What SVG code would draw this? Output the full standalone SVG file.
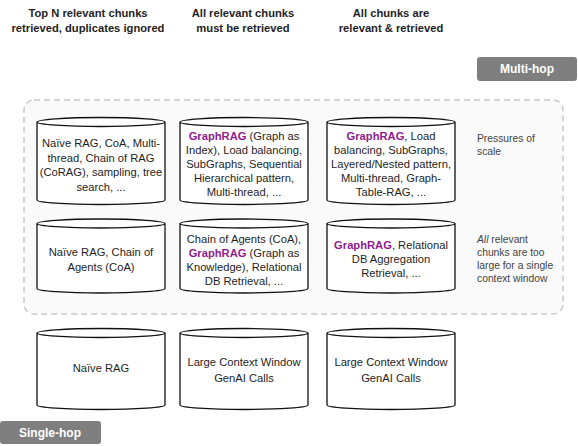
<svg xmlns="http://www.w3.org/2000/svg" width="578" height="446" viewBox="0 0 578 446">
<style>
text{font-family:"Liberation Sans",Arial,sans-serif;fill:#1e1e1e}
.h{font-size:11.2px;font-weight:bold;text-anchor:middle}
.c{font-size:11.2px;text-anchor:middle}
.g{fill:#8e1c8f;font-weight:bold}
.s{font-size:10.3px;fill:#444}
.cyl{fill:#fff;stroke:#111;stroke-width:1.3}
.tag{fill:#7f7f7f}
.tt{font-size:12px;font-weight:bold;fill:#fff;text-anchor:middle}
</style>
<rect width="578" height="446" fill="#fff"/>
<g id="headers">
<text class="h" x="88" y="17">Top N relevant chunks</text>
<text class="h" x="88" y="32">retrieved, duplicates ignored</text>
<text class="h" x="243" y="17">All relevant chunks</text>
<text class="h" x="243" y="32">must be retrieved</text>
<text class="h" x="391" y="17">All chunks are</text>
<text class="h" x="391" y="32">relevant &amp; retrieved</text>
</g>
<g id="multi-hop">
<rect class="tag" x="477" y="57" width="100" height="24" rx="3"/>
<text class="tt" x="527" y="73">Multi-hop</text>
</g>
<g id="multi-hop-region">
<rect x="24" y="100" width="539" height="214" rx="10" fill="#fafafa" stroke="#c9c9c9" stroke-width="1.5" stroke-dasharray="6 4"/>
</g>
<g id="r1c1">
<path class="cyl" d="M37,122V200A64,4.5 0 0 0 165,200V122A64,4.5 0 0 0 37,122ZM37,122A64,4.5 0 0 0 165,122"/>
<text class="c" x="101" y="147">Naïve RAG, CoA, Multi-</text>
<text class="c" x="101" y="161.5">thread, Chain of RAG</text>
<text class="c" x="101" y="176">(CoRAG), sampling, tree</text>
<text class="c" x="101" y="190.5">search, ...</text>
</g>
<g id="r1c2">
<path class="cyl" d="M180,122V200A64,4.5 0 0 0 308,200V122A64,4.5 0 0 0 180,122ZM180,122A64,4.5 0 0 0 308,122"/>
<text class="c" x="244" y="140"><tspan class="g">GraphRAG</tspan> (Graph as</text>
<text class="c" x="244" y="154">Index), Load balancing,</text>
<text class="c" x="244" y="168">SubGraphs, Sequential</text>
<text class="c" x="244" y="182">Hierarchical pattern,</text>
<text class="c" x="244" y="196">Multi-thread, ...</text>
</g>
<g id="r1c3">
<path class="cyl" d="M327,122V200A64,4.5 0 0 0 455,200V122A64,4.5 0 0 0 327,122ZM327,122A64,4.5 0 0 0 455,122"/>
<text class="c" x="391" y="140"><tspan class="g">GraphRAG</tspan>,  Load</text>
<text class="c" x="391" y="154">balancing, SubGraphs,</text>
<text class="c" x="391" y="168">Layered/Nested pattern,</text>
<text class="c" x="391" y="182">Multi-thread, Graph-</text>
<text class="c" x="391" y="196">Table-RAG, ...</text>
</g>
<g id="pressures">
<text class="s" x="477" y="142">Pressures of</text>
<text class="s" x="477" y="155">scale</text>
</g>
<g id="r2c1">
<path class="cyl" d="M37,223.5V288.5A64,4.5 0 0 0 165,288.5V223.5A64,4.5 0 0 0 37,223.5ZM37,223.5A64,4.5 0 0 0 165,223.5"/>
<text class="c" x="101" y="256">Naïve RAG, Chain of</text>
<text class="c" x="101" y="271">Agents (CoA)</text>
</g>
<g id="r2c2">
<path class="cyl" d="M180,223.5V288.5A64,4.5 0 0 0 308,288.5V223.5A64,4.5 0 0 0 180,223.5ZM180,223.5A64,4.5 0 0 0 308,223.5"/>
<text class="c" x="244" y="243">Chain of Agents (CoA),</text>
<text class="c" x="244" y="257"><tspan class="g">GraphRAG</tspan> (Graph as</text>
<text class="c" x="244" y="271">Knowledge), Relational</text>
<text class="c" x="244" y="285">DB Retrieval, ...</text>
</g>
<g id="r2c3">
<path class="cyl" d="M327,223.5V288.5A64,4.5 0 0 0 455,288.5V223.5A64,4.5 0 0 0 327,223.5ZM327,223.5A64,4.5 0 0 0 455,223.5"/>
<text class="c" x="391" y="249"><tspan class="g">GraphRAG</tspan>, Relational</text>
<text class="c" x="391" y="263">DB Aggregation</text>
<text class="c" x="391" y="277">Retrieval, ...</text>
</g>
<g id="too-large">
<text class="s" x="477" y="243"><tspan font-style="italic">All</tspan> relevant</text>
<text class="s" x="477" y="256">chunks are too</text>
<text class="s" x="477" y="269">large for a single</text>
<text class="s" x="477" y="282">context window</text>
</g>
<g id="r3c1">
<path class="cyl" d="M37,333V405A64,4.5 0 0 0 165,405V333A64,4.5 0 0 0 37,333ZM37,333A64,4.5 0 0 0 165,333"/>
<text class="c" x="101" y="372">Naïve RAG</text>
</g>
<g id="r3c2">
<path class="cyl" d="M180,333V405A64,4.5 0 0 0 308,405V333A64,4.5 0 0 0 180,333ZM180,333A64,4.5 0 0 0 308,333"/>
<text class="c" x="244" y="366">Large Context Window</text>
<text class="c" x="244" y="382">GenAI Calls</text>
</g>
<g id="r3c3">
<path class="cyl" d="M327,333V405A64,4.5 0 0 0 455,405V333A64,4.5 0 0 0 327,333ZM327,333A64,4.5 0 0 0 455,333"/>
<text class="c" x="391" y="366">Large Context Window</text>
<text class="c" x="391" y="382">GenAI Calls</text>
</g>
<g id="single-hop">
<rect class="tag" x="0" y="421" width="101" height="23" rx="3"/>
<text class="tt" x="50" y="437">Single-hop</text>
</g>
<g id="connectors"></g>
</svg>
